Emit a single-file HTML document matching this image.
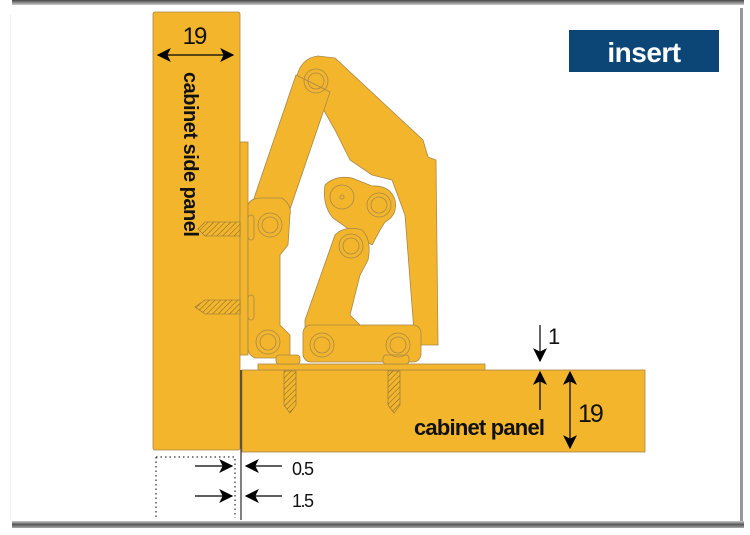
<!DOCTYPE html>
<html><head><meta charset="utf-8"><style>
html,body{margin:0;padding:0;background:#fff;width:750px;height:535px;overflow:hidden}
svg{display:block}
text{font-family:"Liberation Sans",sans-serif}
</style></head><body>
<svg width="750" height="535" viewBox="0 0 750 535" xmlns="http://www.w3.org/2000/svg">
<defs>
<linearGradient id="tb" x1="0" y1="0" x2="0" y2="1"><stop offset="0" stop-color="#444"/><stop offset="1" stop-color="#ccc"/></linearGradient>
<linearGradient id="bb" x1="0" y1="0" x2="0" y2="1"><stop offset="0" stop-color="#ccc"/><stop offset="0.5" stop-color="#555"/><stop offset="1" stop-color="#aaa"/></linearGradient>
<pattern id="hatch" width="4" height="4" patternUnits="userSpaceOnUse" patternTransform="rotate(45)"><rect width="4" height="4" fill="#f2b52c"/><line x1="0" y1="0" x2="0" y2="4" stroke="#7a6430" stroke-width="1"/></pattern>
<marker id="ah" viewBox="0 0 12 12" refX="11" refY="6" markerWidth="14" markerHeight="14" markerUnits="userSpaceOnUse" orient="auto-start-reverse"><path d="M0,0L12,6L0,12L3,6z" fill="#000"/></marker>
</defs>
<!-- frame -->
<rect x="12" y="0" width="732" height="5" fill="url(#tb)"/>
<rect x="740" y="8" width="3" height="515" fill="#999"/>
<rect x="10" y="15" width="1" height="505" fill="#eee"/>
<rect x="12" y="521" width="732" height="7" fill="url(#bb)"/>

<g stroke="#a8884a" stroke-width="0.8" fill="#f2b52c">
<rect x="153" y="12" width="87" height="438" rx="2"/>
<rect x="240" y="142" width="8" height="213"/>
<rect x="242" y="370" width="403" height="82"/>
<rect x="258" y="364" width="227" height="6"/>
<!-- top arm -->
<path d="M296,80 Q300,58 318,56 L335,58 L423,140 L428,157 L436,160 L438,345 L415,345 L405,215 L392,180 L372,175 L350,160 L335,130 L318,100 L300,95 Z"/>
<!-- left arm -->
<path d="M250,210 L296,75 L330,92 L288,215 Z"/>
<!-- vertical base -->
<path d="M248,205 Q250,198 262,198 L282,198 Q292,205 290,215 L288,245 L280,255 L280,325 L290,335 L290,358 L255,358 Q248,355 248,348 Z"/>
<!-- middle link -->
<path d="M325,185 Q335,175 352,178 L372,186 Q390,185 395,200 Q398,215 385,222 L380,230 L372,245 L350,230 L333,218 Q322,205 325,185 Z"/>
<!-- lower link -->
<path d="M335,235 Q345,225 362,230 Q372,240 368,260 L360,275 L350,315 L360,325 L305,335 L305,320 Z"/>
<rect x="303" y="325" width="118" height="37" rx="8"/>
<rect x="276" y="355" width="24" height="9" rx="3"/>
<rect x="383" y="355" width="26" height="9" rx="3"/>
<rect x="248" y="215" width="6" height="25" rx="3"/>
<rect x="248" y="295" width="6" height="25" rx="3"/>
</g>
<g fill="none" stroke="#a8884a" stroke-width="0.8">
<circle cx="316" cy="81" r="12"/><circle cx="316" cy="81" r="8"/>
<circle cx="270" cy="225" r="12"/><circle cx="270" cy="225" r="8"/>
<circle cx="342" cy="197" r="12"/><circle cx="342" cy="197" r="2"/>
<circle cx="379" cy="205" r="12"/><circle cx="379" cy="205" r="8"/>
<circle cx="351" cy="246" r="12"/><circle cx="351" cy="246" r="8"/>
<circle cx="268" cy="342" r="12"/><circle cx="268" cy="342" r="8"/>
<circle cx="322" cy="345" r="12"/><circle cx="322" cy="345" r="8"/>
<circle cx="398" cy="345" r="12"/><circle cx="398" cy="345" r="8"/>
</g>
<g stroke="#8a7040" stroke-width="0.6" fill="url(#hatch)">
<path d="M205,222 L240,222 L240,236 L205,236 L198,229 Z"/>
<path d="M205,300 L240,300 L240,314 L205,314 L195,307 Z"/>
<path d="M284,371 L296,371 L296,405 L290,413 L284,405 Z"/>
<path d="M388,371 L400,371 L400,405 L394,413 L388,405 Z"/>
</g>
<line x1="241" y1="370" x2="241" y2="520" stroke="#000" stroke-width="1"/>
<path d="M156,457 L235,457 L235,518 M156,457 L156,518" fill="none" stroke="#000" stroke-width="1" stroke-dasharray="1.5,3"/>

<g stroke="#000" stroke-width="1.2" fill="none" marker-end="url(#ah)">
<line x1="195" y1="55" x2="158" y2="55"/>
<line x1="195" y1="55" x2="233" y2="55"/>
<line x1="195" y1="466" x2="232" y2="466"/>
<line x1="195" y1="496" x2="232" y2="496"/>
<line x1="282" y1="466" x2="246" y2="466"/>
<line x1="282" y1="496" x2="246" y2="496"/>
<line x1="540" y1="325" x2="540" y2="361"/>
<line x1="540" y1="410" x2="540" y2="372"/>
<line x1="570" y1="410" x2="570" y2="372"/>
<line x1="570" y1="410" x2="570" y2="448"/>
</g>
<text x="194" y="44" font-size="24" text-anchor="middle" fill="#111" letter-spacing="-2">19</text>
<text transform="translate(184,72) rotate(90)" font-size="20" font-weight="bold" fill="#111" letter-spacing="-0.5">cabinet side panel</text>
<text x="292" y="475" font-size="18" fill="#111" letter-spacing="-1.5">0.5</text>
<text x="292" y="507" font-size="18" fill="#111" letter-spacing="-1.5">1.5</text>
<text x="548" y="344" font-size="22" fill="#111">1</text>
<text x="578" y="422" font-size="25" fill="#111" letter-spacing="-2">19</text>
<text x="414" y="435" font-size="22" font-weight="bold" fill="#111" letter-spacing="-0.8">cabinet panel</text>
<rect x="569" y="30" width="150" height="42" fill="#0b4677"/>
<text x="644" y="62" font-size="28" font-weight="bold" fill="#fff" text-anchor="middle" letter-spacing="-0.5">insert</text>
</svg>
</body></html>
